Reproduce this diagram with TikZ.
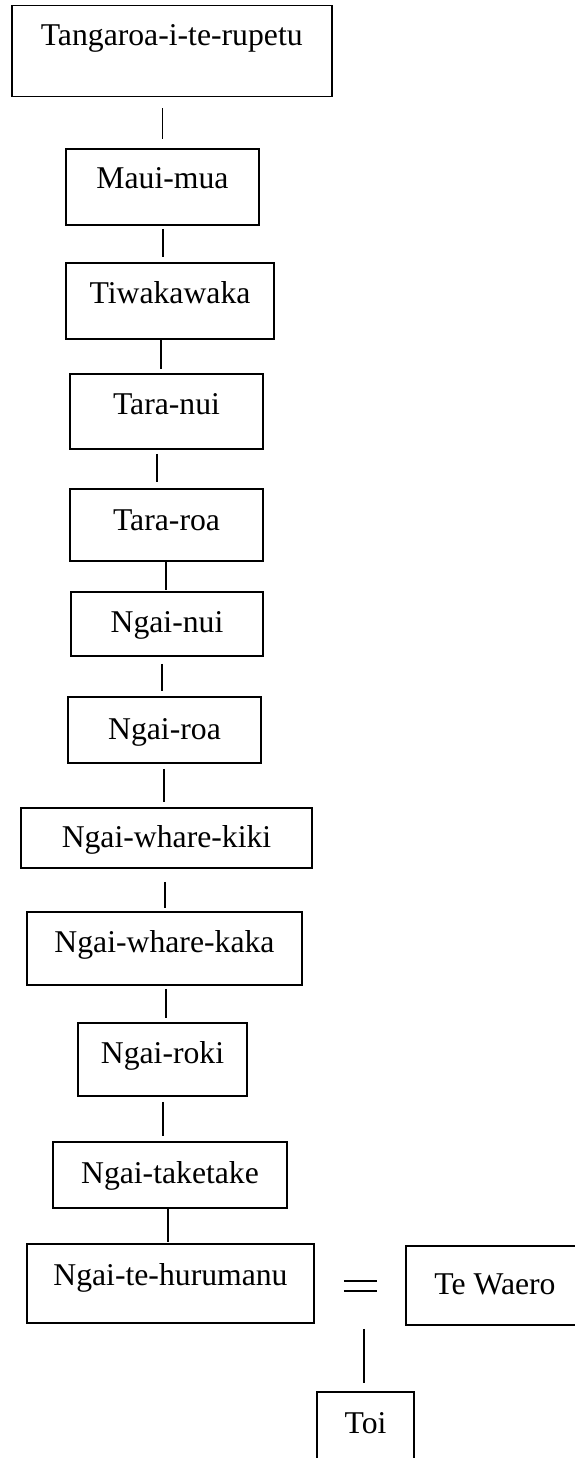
\documentclass[tikz,border=0pt]{standalone}
\usepackage{fontspec}
\setmainfont{Liberation Serif}
\tikzset{
    famBox/.style={draw, rectangle, line width=1.6pt, inner sep=0pt, text height=22pt},
    kin/.style={line width=1.6pt},
}
\begin{document}
\begin{tikzpicture}[x=1pt,y=-1pt,every node/.style={font=\fontsize{31.7}{38}\selectfont}]
    \useasboundingbox (0,0) rectangle (575,1458);
    \node[famBox,minimum width=320pt,minimum height=91pt,text depth=33pt] (tangaroa) at (171.7,51.2) {Tangaroa-i-te-rupetu};
    \node[famBox,minimum width=193pt,minimum height=76pt,text depth=18pt] (mauimua) at (162.5,187) {Maui-mua};
    \node[famBox,minimum width=208pt,minimum height=76pt,text depth=18pt] (tiwakawaka) at (170,301) {Tiwakawaka};
    \node[famBox,minimum width=193pt,minimum height=75pt,text depth=17pt] (taranui) at (166.5,411.5) {Tara-nui};
    \node[famBox,minimum width=193pt,minimum height=72pt,text depth=12pt] (tararoa) at (166.5,525) {Tara-roa};
    \node[famBox,minimum width=192pt,minimum height=64pt,text depth=6pt] (ngainui) at (167,624) {Ngai-nui};
    \node[famBox,minimum width=193pt,minimum height=66pt,text depth=4pt] (ngairoa) at (164.5,730) {Ngai-roa};
    \node[famBox,minimum width=291pt,minimum height=60pt,text depth=4pt] (kiki) at (166.5,838) {Ngai-whare-kiki};
    \node[famBox,minimum width=275pt,minimum height=73pt,text depth=15pt] (kaka) at (164.5,948.5) {Ngai-whare-kaka};
    \node[famBox,minimum width=169pt,minimum height=73pt,text depth=15pt] (ngairoki) at (162.5,1059.5) {Ngai-roki};
    \node[famBox,minimum width=234pt,minimum height=66pt,text depth=6pt] (taketake) at (170,1175) {Ngai-taketake};
    \node[famBox,minimum width=287pt,minimum height=79pt,text depth=19pt] (hurumanu) at (170.5,1283.5) {Ngai-te-hurumanu};
    \node[famBox,minimum width=178pt,minimum height=79pt,text depth=5pt] (tewaero) at (495,1285.5) {Te Waero};
    \node[famBox,minimum width=97pt,minimum height=78pt,text depth=18pt] (toi) at (365.5,1431) {Toi};
    % line of descent
    \path[kin]
        ([xshift=-9.4pt]tangaroa.south) edge[shorten <=11pt,shorten >=9pt] ([xshift=-9.4pt]tangaroa.south |- mauimua.north)
        ([xshift=0.5pt]mauimua.south)   edge[shorten <=3pt,shorten >=5pt]  ([xshift=0.5pt]mauimua.south |- tiwakawaka.north)
        ([xshift=-9pt]tiwakawaka.south) edge[shorten >=4pt]                ([xshift=-9pt]tiwakawaka.south |- taranui.north)
        ([xshift=-9.5pt]taranui.south)  edge[shorten <=4pt,shorten >=6pt]  ([xshift=-9.5pt]taranui.south |- tararoa.north)
        ([xshift=-0.5pt]tararoa.south)  edge[shorten >=1pt]                ([xshift=-0.5pt]tararoa.south |- ngainui.north)
        ([xshift=-5pt]ngainui.south)    edge[shorten <=7pt,shorten >=5pt]  ([xshift=-5pt]ngainui.south |- ngairoa.north)
        ([xshift=-0.5pt]ngairoa.south)  edge[shorten <=5pt,shorten >=5pt]  ([xshift=-0.5pt]ngairoa.south |- kiki.north)
        ([xshift=-1.5pt]kiki.south)     edge[shorten <=13pt,shorten >=3pt] ([xshift=-1.5pt]kiki.south |- kaka.north)
        ([xshift=1.5pt]kaka.south)      edge[shorten <=3pt,shorten >=4pt]  ([xshift=1.5pt]kaka.south |- ngairoki.north)
        ([xshift=0.5pt]ngairoki.south)  edge[shorten <=5pt,shorten >=5pt]  ([xshift=0.5pt]ngairoki.south |- taketake.north)
        ([xshift=-2pt]taketake.south)   edge[shorten >=1pt]                ([xshift=-2pt]taketake.south |- hurumanu.north)
    ;
    % marriage and child
    \path[kin]
        ([yshift=2.5pt]hurumanu.east)  edge[shorten <=29pt,shorten >=28pt] ([yshift=2.5pt]hurumanu.east -| tewaero.west)
        ([yshift=-7.5pt]hurumanu.east) edge[shorten <=29pt,shorten >=28pt] ([yshift=-7.5pt]hurumanu.east -| tewaero.west)
        ([xshift=-1.5pt]toi.north |- tewaero.south) edge[shorten <=3pt,shorten >=8pt] ([xshift=-1.5pt]toi.north)
    ;
\end{tikzpicture}
\end{document}
